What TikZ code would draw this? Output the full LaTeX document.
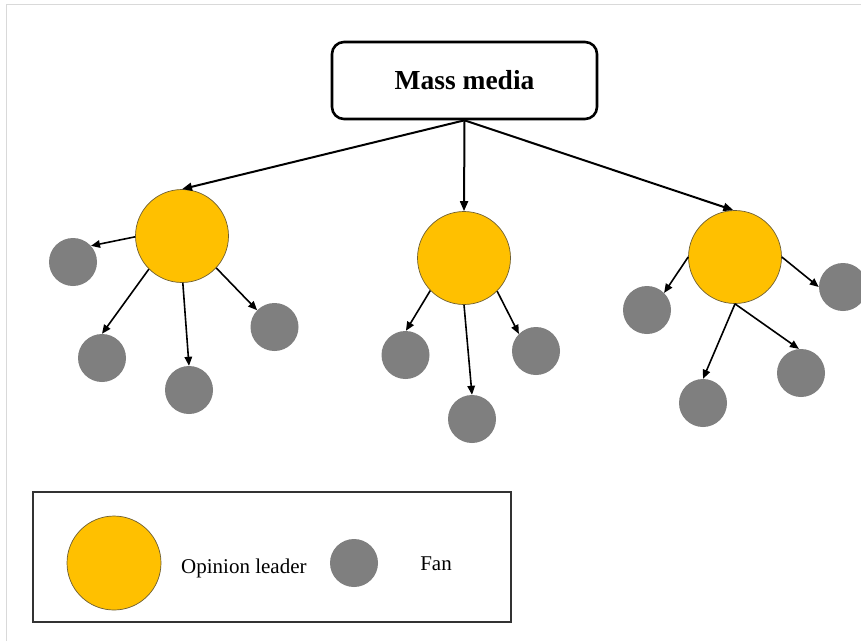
\documentclass[tikz,border=0pt]{standalone}
\usepackage{fontspec}
\setmainfont{Liberation Serif}
\usetikzlibrary{arrows.meta}
\definecolor{leadercol}{RGB}{255,192,0}
\definecolor{fancol}{RGB}{127,127,127}
\definecolor{leaderline}{RGB}{110,95,50}
\definecolor{framecol}{RGB}{217,217,217}
\tikzset{
  leader/.style={circle, fill=leadercol, draw=leaderline, line width=0.7pt, minimum size=93pt, inner sep=0pt},
  fan/.style={circle, fill=fancol, minimum size=48pt, inner sep=0pt},
  link/.style={line width=1.6pt, -{Triangle[length=9pt,width=7.5pt]}},
  mainlink/.style={line width=2pt, -{Triangle[length=10pt,width=8pt]}},
  mediabox/.style={rectangle, rounded corners=12pt, draw=black, line width=2.6pt, minimum width=265pt, minimum height=77pt, fill=white},
  legendtext/.style={font=\fontsize{21}{25}\selectfont, inner sep=0pt}
}
\begin{document}
\begin{tikzpicture}[x=1pt,y=-1pt]
\useasboundingbox (0,0) rectangle (861,641);
\clip (0,0) rectangle (861,641);
\fill[white] (0,0) rectangle (861,641);
% screenshot frame
\draw[framecol, line width=1pt] (6,641) -- (6,4) -- (861,4);

% mass media
\node[mediabox] (M) at (464.5,80.5) {\fontsize{27.5}{32}\selectfont\bfseries Mass media};

% leaders
\node[leader] (L1) at (182,236) {};
\node[leader] (L2) at (464,258) {};
\node[leader] (L3) at (735,257) {};

% fans group 1
\node[fan] (A1) at (73,262) {};
\node[fan] (A2) at (102,358) {};
\node[fan] (A3) at (189,390) {};
\node[fan] (A4) at (274.5,327) {};
% fans group 2
\node[fan] (B1) at (405.5,355) {};
\node[fan] (B2) at (472,419) {};
\node[fan] (B3) at (536,351) {};
% fans group 3
\node[fan] (C1) at (647,310) {};
\node[fan] (C2) at (843,287) {};
\node[fan] (C3) at (703,403) {};
\node[fan] (C4) at (801,373) {};

% mass media arrows
\draw[mainlink] (M.south) -- (L1.90);
\draw[mainlink] (M.south) -- (L2.90);
\draw[mainlink] (M.south) -- (L3.92);

% leader to fans
\draw[link] (L1.181) -- (A1.42);
\draw[link] (L1.225) -- (A2.90);
\draw[link] (L1.271) -- (A3.90);
\draw[link] (L1.317) -- (A4.136);

\draw[link] (L2.224) -- (B1.89);
\draw[link] (L2.270) -- (B2.90);
\draw[link] (L2.315) -- (B3.135);

\draw[link] (L3.180) -- (C1.45);
\draw[link] (L3.0) -- (C2.180);
\draw[link] (L3.270) -- (C3.90);
\draw[link] (L3.270) -- (C4.95);

% legend
\node[draw=black!80, line width=1.2pt, minimum width=478pt, minimum height=130pt, inner sep=0pt] (legend) at (272,557) {};
\node[leader, minimum size=94pt] (LL) at (114,563) {};
\node[legendtext, anchor=west] (LT) at (181,568) {Opinion leader};
\node[fan] (LF) at (354,563) {};
\node[legendtext] (FT) at (436,564) {Fan};
\end{tikzpicture}
\end{document}
